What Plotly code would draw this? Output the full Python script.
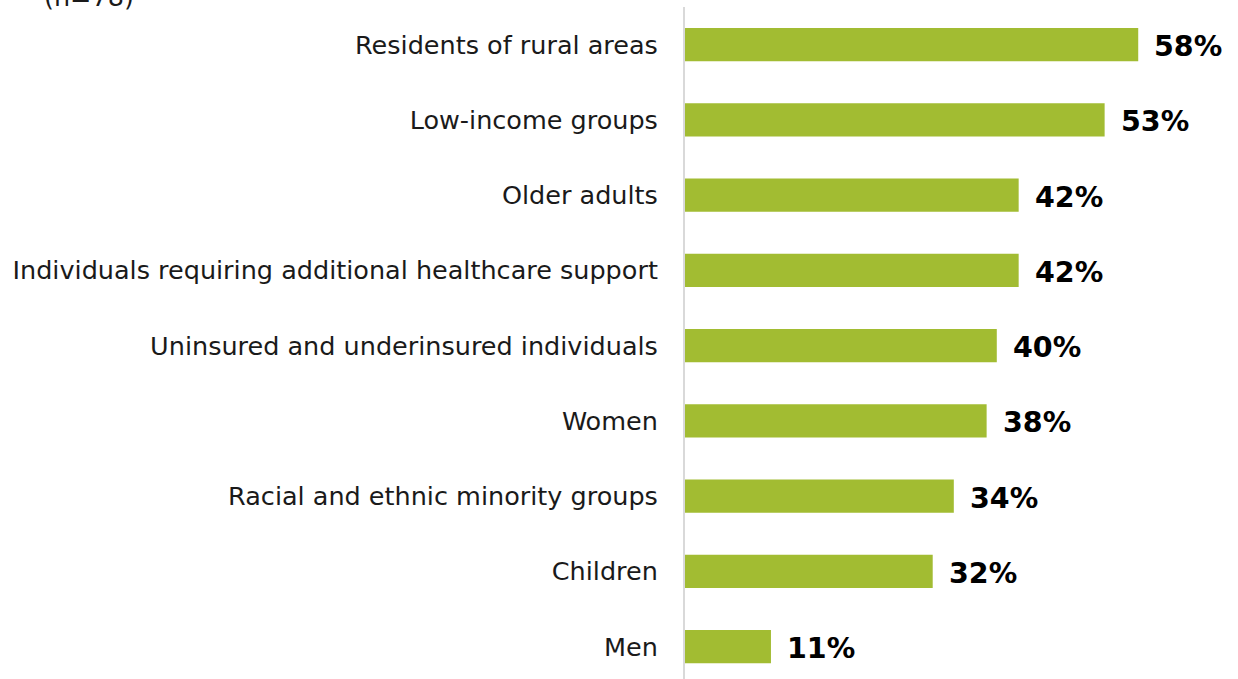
import plotly.graph_objects as go

categories = [
    "Residents of rural areas",
    "Low-income groups",
    "Older adults",
    "Individuals requiring additional healthcare support",
    "Uninsured and underinsured individuals",
    "Women",
    "Racial and ethnic minority groups",
    "Children",
    "Men",
]
values = [58, 53.7, 42.7, 42.7, 39.9, 38.6, 34.4, 31.7, 11]
value_labels = ["58%", "53%", "42%", "42%", "40%", "38%", "34%", "32%", "11%"]
subtitle = "(n=78)"

positions = list(range(len(categories)))
font_family = "DejaVu Sans, Verdana, sans-serif"

fig = go.Figure(
    go.Bar(
        x=values,
        y=positions,
        orientation="h",
        marker=dict(color="#a2bc32", line=dict(width=0)),
        width=0.44,
        hoverinfo="skip",
    )
)

for v, p, t in zip(values, positions, value_labels):
    fig.add_annotation(
        x=v, y=p, text="<b>" + t + "</b>", showarrow=False,
        xanchor="left", yanchor="middle", xshift=14, yshift=-2,
        font=dict(family=font_family, size=28.5, color="#000000"),
    )

fig.add_annotation(
    x=0, y=1, xref="paper", yref="paper", text=subtitle, showarrow=False,
    xanchor="left", yanchor="bottom", xshift=-643, yshift=-7,
    font=dict(family=font_family, size=25.5, color="#1a1a1a"),
)

fig.update_layout(
    width=1238, height=679,
    margin=dict(l=685, r=6, t=7, b=0),
    paper_bgcolor="white", plot_bgcolor="white",
    showlegend=False,
    xaxis=dict(range=[0, 70], visible=False, fixedrange=True),
    yaxis=dict(
        range=[8.43, -0.5],
        tickmode="array", tickvals=positions, ticktext=categories,
        showline=True, linecolor="#d9d9d9", linewidth=2,
        showgrid=False, zeroline=False, ticks="",
        ticklabelstandoff=20,
        tickfont=dict(family=font_family, size=25.5, color="#1a1a1a"),
    ),
)

fig.write_html("out.html")
